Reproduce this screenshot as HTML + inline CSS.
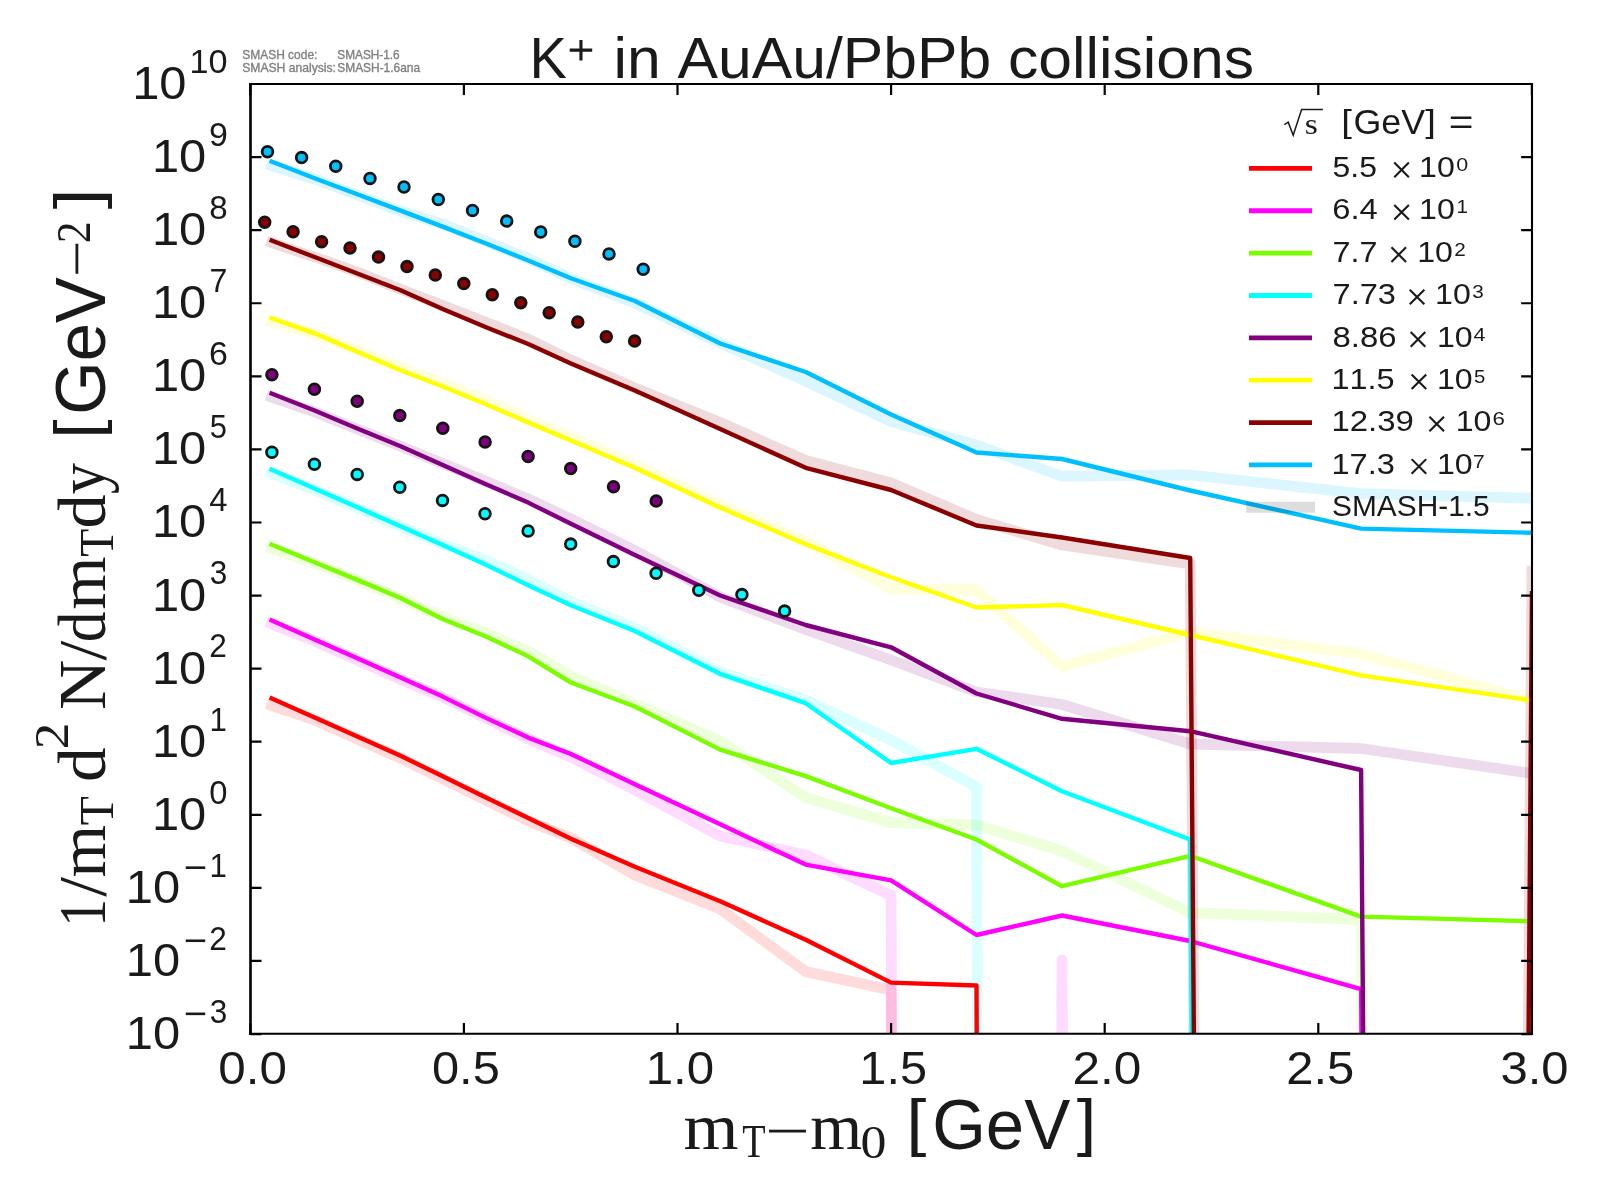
<!DOCTYPE html>
<html><head><meta charset="utf-8"><title>K+ mT spectra</title>
<style>html,body{margin:0;padding:0;background:#fff;overflow:hidden}svg{display:block}text{font-family:"Liberation Sans",sans-serif;fill:#1a1a1a;font-kerning:none}svg{will-change:transform}</style></head><body>
<svg width="1600" height="1200" viewBox="0 0 1600 1200">
<rect width="1600" height="1200" fill="#fff"/>
<defs><clipPath id="c"><rect x="250.5" y="84.0" width="1281.6" height="949.9"/></clipPath></defs>
<g clip-path="url(#c)" fill="none" stroke-linejoin="round" stroke-linecap="butt" stroke-width="10.8" stroke-opacity="0.14">
<path d="M266.5,704.0 L314.6,720.0 L357.3,739.0 L400.0,758.0 L442.7,779.0 L485.4,800.0 L528.2,821.0 L570.9,838.0 L634.9,875.0 L720.2,909.0 L805.7,971.6 L891.1,990.0 L976.5,22738.8" stroke="#ff0000"/>
<path d="M266.5,622.0 L314.6,641.0 L357.3,660.0 L400.0,679.0 L442.7,697.0 L485.4,718.0 L528.2,739.0 L570.9,757.0 L634.9,790.0 L720.2,836.0 L805.7,855.0 L891.1,895.5 L976.5,22738.8 L1062.0,960.0 L1190.2,22738.8" stroke="#ff00ff"/>
<path d="M266.5,546.5 L314.6,563.5 L357.3,580.0 L400.0,598.0 L442.7,617.0 L485.4,633.0 L528.2,651.0 L570.9,676.0 L634.9,703.8 L720.2,741.0 L805.7,797.5 L891.1,822.5 L976.5,825.0 L1062.0,851.0 L1190.2,912.6 L1361.1,919.5 L1532.0,22738.8" stroke="#7cfc00"/>
<path d="M266.5,471.5 L314.6,490.0 L357.3,508.0 L400.0,526.0 L442.7,544.0 L485.4,560.0 L528.2,579.5 L570.9,601.5 L634.9,628.0 L720.2,672.0 L805.7,700.0 L891.1,740.0 L976.5,787.0 L1062.0,22738.8" stroke="#00ffff"/>
<path d="M266.5,395.5 L314.6,412.0 L357.3,429.0 L400.0,446.0 L442.7,463.5 L485.4,481.0 L528.2,499.0 L570.9,519.0 L634.9,550.5 L720.2,597.0 L805.7,629.5 L891.1,660.0 L976.5,692.0 L1062.0,704.5 L1190.2,744.0 L1361.1,748.5 L1532.0,773.5" stroke="#800080"/>
<path d="M266.5,320.0 L314.6,334.0 L357.3,350.0 L400.0,367.0 L442.7,383.0 L485.4,400.0 L528.2,420.0 L570.9,437.0 L634.9,465.0 L720.2,505.0 L805.7,541.0 L891.1,588.8 L976.5,590.0 L1062.0,666.5 L1190.2,632.0 L1361.1,654.0 L1532.0,700.5" stroke="#ffff00"/>
<path d="M266.5,241.0 L314.6,257.0 L357.3,272.0 L400.0,289.0 L442.7,305.5 L485.4,322.0 L528.2,339.0 L570.9,360.0 L634.9,388.0 L720.2,422.5 L805.7,460.5 L891.1,483.0 L976.5,519.5 L1062.0,545.0 L1190.2,563.8 L1361.1,22738.8 L1532.0,565.7" stroke="#8b0000"/>
<path d="M266.5,164.0 L314.6,179.0 L357.3,195.0 L400.0,211.0 L442.7,224.0 L485.4,241.0 L528.2,258.5 L570.9,278.5 L634.9,303.0 L720.2,343.0 L805.7,381.0 L891.1,421.5 L976.5,445.0 L1062.0,476.2 L1190.2,475.0 L1361.1,493.6 L1532.0,498.2" stroke="#00bfff"/>
</g>
<g clip-path="url(#c)" fill="none" stroke-linejoin="round" stroke-linecap="butt" stroke-width="4.4">
<path d="M269.6,697.5 L314.6,717.4 L357.3,736.4 L400.0,755.5 L442.7,776.3 L485.4,797.2 L528.2,818.0 L570.9,838.8 L634.9,866.8 L720.2,901.2 L805.7,939.8 L891.1,982.6 L976.5,985.5 L1062.0,22738.8" stroke="#ff0000"/>
<path d="M269.6,619.4 L314.6,639.4 L357.3,658.3 L400.0,677.2 L442.7,696.6 L485.4,717.6 L528.2,737.6 L570.9,754.0 L634.9,784.2 L720.2,824.2 L805.7,864.6 L891.1,880.4 L976.5,935.0 L1062.0,915.5 L1190.2,941.0 L1361.1,989.2 L1532.0,22738.8" stroke="#ff00ff"/>
<path d="M269.6,543.8 L314.6,562.3 L357.3,579.9 L400.0,597.8 L442.7,619.0 L485.4,636.3 L528.2,656.3 L570.9,682.5 L634.9,706.5 L720.2,749.6 L805.7,776.1 L891.1,808.2 L976.5,839.5 L1062.0,886.2 L1190.2,855.8 L1361.1,916.6 L1532.0,921.3" stroke="#7cfc00"/>
<path d="M269.6,468.8 L314.6,488.6 L357.3,507.3 L400.0,526.1 L442.7,545.0 L485.4,564.5 L528.2,585.2 L570.9,605.2 L634.9,631.0 L720.2,673.8 L805.7,703.2 L891.1,763.0 L976.5,748.8 L1062.0,791.2 L1190.2,839.5 L1361.1,22738.8" stroke="#00ffff"/>
<path d="M269.6,392.8 L314.6,410.5 L357.3,428.5 L400.0,446.0 L442.7,465.0 L485.4,484.0 L528.2,502.6 L570.9,523.8 L634.9,555.0 L720.2,595.5 L805.7,625.0 L891.1,647.3 L976.5,693.5 L1062.0,718.8 L1190.2,731.2 L1361.1,770.0 L1532.0,22738.8" stroke="#800080"/>
<path d="M269.6,317.5 L314.6,333.3 L357.3,351.8 L400.0,370.0 L442.7,386.5 L485.4,404.0 L528.2,422.4 L570.9,440.6 L634.9,467.8 L720.2,507.5 L805.7,544.2 L891.1,577.2 L976.5,607.5 L1062.0,605.0 L1190.2,635.0 L1361.1,675.4 L1532.0,700.5" stroke="#ffff00"/>
<path d="M269.6,239.8 L314.6,257.0 L357.3,273.5 L400.0,290.0 L442.7,309.0 L485.4,327.0 L528.2,344.0 L570.9,363.5 L634.9,390.5 L720.2,429.0 L805.7,467.8 L891.1,490.0 L976.5,525.5 L1062.0,537.5 L1190.2,558.0 L1361.1,22738.8 L1532.0,591.0" stroke="#8b0000"/>
<path d="M269.6,160.7 L314.6,178.3 L357.3,194.3 L400.0,210.4 L442.7,226.6 L485.4,243.3 L528.2,260.5 L570.9,278.2 L634.9,301.0 L720.2,343.5 L805.7,372.0 L891.1,414.5 L976.5,452.5 L1062.0,459.0 L1190.2,490.5 L1361.1,528.6 L1532.0,532.8" stroke="#00bfff"/>
</g>
<g stroke="#141414" stroke-width="2.8">
<circle cx="267.5" cy="151.8" r="5.35" fill="#00bfff"/>
<circle cx="301.6" cy="157.6" r="5.35" fill="#00bfff"/>
<circle cx="335.75" cy="166.3" r="5.35" fill="#00bfff"/>
<circle cx="370" cy="178.4" r="5.35" fill="#00bfff"/>
<circle cx="404" cy="187" r="5.35" fill="#00bfff"/>
<circle cx="438.3" cy="199.5" r="5.35" fill="#00bfff"/>
<circle cx="472.5" cy="210.5" r="5.35" fill="#00bfff"/>
<circle cx="506.7" cy="221.1" r="5.35" fill="#00bfff"/>
<circle cx="540.7" cy="232" r="5.35" fill="#00bfff"/>
<circle cx="574.9" cy="241.2" r="5.35" fill="#00bfff"/>
<circle cx="609" cy="253.9" r="5.35" fill="#00bfff"/>
<circle cx="643.2" cy="269.2" r="5.35" fill="#00bfff"/>
<circle cx="264.7" cy="222.3" r="5.35" fill="#8b0000"/>
<circle cx="293.1" cy="231.7" r="5.35" fill="#8b0000"/>
<circle cx="321.6" cy="241.8" r="5.35" fill="#8b0000"/>
<circle cx="350" cy="248" r="5.35" fill="#8b0000"/>
<circle cx="378.5" cy="257.1" r="5.35" fill="#8b0000"/>
<circle cx="407" cy="266.6" r="5.35" fill="#8b0000"/>
<circle cx="435.3" cy="274.9" r="5.35" fill="#8b0000"/>
<circle cx="463.8" cy="283.6" r="5.35" fill="#8b0000"/>
<circle cx="492.3" cy="294.7" r="5.35" fill="#8b0000"/>
<circle cx="520.8" cy="302.7" r="5.35" fill="#8b0000"/>
<circle cx="549.2" cy="312.7" r="5.35" fill="#8b0000"/>
<circle cx="577.8" cy="322" r="5.35" fill="#8b0000"/>
<circle cx="606.3" cy="336.8" r="5.35" fill="#8b0000"/>
<circle cx="634.6" cy="341.1" r="5.35" fill="#8b0000"/>
<circle cx="271.9" cy="374.7" r="5.35" fill="#800080"/>
<circle cx="314.4" cy="389.3" r="5.35" fill="#800080"/>
<circle cx="357.2" cy="401.2" r="5.35" fill="#800080"/>
<circle cx="399.8" cy="415.6" r="5.35" fill="#800080"/>
<circle cx="442.8" cy="428.2" r="5.35" fill="#800080"/>
<circle cx="485.1" cy="442" r="5.35" fill="#800080"/>
<circle cx="528.1" cy="456.4" r="5.35" fill="#800080"/>
<circle cx="570.7" cy="468.6" r="5.35" fill="#800080"/>
<circle cx="613.5" cy="486.8" r="5.35" fill="#800080"/>
<circle cx="656.2" cy="501.1" r="5.35" fill="#800080"/>
<circle cx="271.9" cy="452.2" r="5.35" fill="#00ffff"/>
<circle cx="314.4" cy="464.3" r="5.35" fill="#00ffff"/>
<circle cx="357.2" cy="474.4" r="5.35" fill="#00ffff"/>
<circle cx="399.8" cy="487.3" r="5.35" fill="#00ffff"/>
<circle cx="442.5" cy="500.4" r="5.35" fill="#00ffff"/>
<circle cx="485" cy="513.75" r="5.35" fill="#00ffff"/>
<circle cx="528.1" cy="531" r="5.35" fill="#00ffff"/>
<circle cx="570.7" cy="544.1" r="5.35" fill="#00ffff"/>
<circle cx="613.4" cy="561.6" r="5.35" fill="#00ffff"/>
<circle cx="656.1" cy="573.3" r="5.35" fill="#00ffff"/>
<circle cx="698.8" cy="590.3" r="5.35" fill="#00ffff"/>
<circle cx="741.9" cy="594.6" r="5.35" fill="#00ffff"/>
<circle cx="784.6" cy="611.1" r="5.35" fill="#00ffff"/>
</g>
<path d="M250.5,83.0V1034.9" stroke="#000" stroke-width="2.6" fill="none"/>
<path d="M1532.0,83.0V1034.9" stroke="#000" stroke-width="2.1" fill="none"/>
<path d="M249.2,84.0H1533.05" stroke="#000" stroke-width="2.1" fill="none"/>
<path d="M249.2,1033.8000000000002H1533.05" stroke="#000" stroke-width="2.1" fill="none"/>
<path d="M250.5,1034.04h11 M1532.1,1034.04h-11 M250.5,960.96h11 M1532.1,960.96h-11 M250.5,887.88h11 M1532.1,887.88h-11 M250.5,814.80h11 M1532.1,814.80h-11 M250.5,741.72h11 M1532.1,741.72h-11 M250.5,668.64h11 M1532.1,668.64h-11 M250.5,595.56h11 M1532.1,595.56h-11 M250.5,522.48h11 M1532.1,522.48h-11 M250.5,449.40h11 M1532.1,449.40h-11 M250.5,376.32h11 M1532.1,376.32h-11 M250.5,303.24h11 M1532.1,303.24h-11 M250.5,230.16h11 M1532.1,230.16h-11 M250.5,157.08h11 M1532.1,157.08h-11 M250.5,84.00h11 M1532.1,84.00h-11 M250.30,1033.9v-11 M250.30,84.0v11 M463.90,1033.9v-11 M463.90,84.0v11 M677.50,1033.9v-11 M677.50,84.0v11 M891.10,1033.9v-11 M891.10,84.0v11 M1104.70,1033.9v-11 M1104.70,84.0v11 M1318.30,1033.9v-11 M1318.30,84.0v11 M1531.90,1033.9v-11 M1531.90,84.0v11" stroke="#000" stroke-width="2.2" fill="none"/>
<g>
<rect x="185.74" y="1012.54" width="19.47" height="2.6" fill="#1a1a1a"/>
<text transform="matrix(0.9688,0,0,1.0000,209.68,1022.84)" style="font-family:'Liberation Sans';font-size:32.51px" >3</text>
<text transform="matrix(1.0521,0,0,1.0000,125.85,1049.04)" style="font-family:'Liberation Sans';font-size:46.44px" >10</text>
<rect x="185.74" y="939.46" width="19.47" height="2.6" fill="#1a1a1a"/>
<text transform="matrix(0.9723,0,0,1.0000,209.20,949.76)" style="font-family:'Liberation Sans';font-size:32.51px" >2</text>
<text transform="matrix(1.0521,0,0,1.0000,125.85,975.96)" style="font-family:'Liberation Sans';font-size:46.44px" >10</text>
<rect x="185.74" y="866.38" width="19.47" height="2.6" fill="#1a1a1a"/>
<text transform="matrix(0.9634,0,0,1.0000,209.54,876.68)" style="font-family:'Liberation Sans';font-size:32.51px" >1</text>
<text transform="matrix(1.0521,0,0,1.0000,125.85,902.88)" style="font-family:'Liberation Sans';font-size:46.44px" >10</text>
<text transform="matrix(1.0087,0,0,1.0000,209.28,803.60)" style="font-family:'Liberation Sans';font-size:32.51px" >0</text>
<text transform="matrix(1.0521,0,0,1.0000,151.92,829.80)" style="font-family:'Liberation Sans';font-size:46.44px" >10</text>
<text transform="matrix(0.9634,0,0,1.0000,209.54,730.52)" style="font-family:'Liberation Sans';font-size:32.51px" >1</text>
<text transform="matrix(1.0521,0,0,1.0000,151.92,756.72)" style="font-family:'Liberation Sans';font-size:46.44px" >10</text>
<text transform="matrix(0.9723,0,0,1.0000,209.20,657.44)" style="font-family:'Liberation Sans';font-size:32.51px" >2</text>
<text transform="matrix(1.0521,0,0,1.0000,151.92,683.64)" style="font-family:'Liberation Sans';font-size:46.44px" >10</text>
<text transform="matrix(0.9688,0,0,1.0000,209.68,584.36)" style="font-family:'Liberation Sans';font-size:32.51px" >3</text>
<text transform="matrix(1.0521,0,0,1.0000,151.92,610.56)" style="font-family:'Liberation Sans';font-size:46.44px" >10</text>
<text transform="matrix(1.0089,0,0,1.0000,209.27,511.28)" style="font-family:'Liberation Sans';font-size:32.51px" >4</text>
<text transform="matrix(1.0521,0,0,1.0000,151.92,537.48)" style="font-family:'Liberation Sans';font-size:46.44px" >10</text>
<text transform="matrix(0.9520,0,0,1.0000,209.67,438.20)" style="font-family:'Liberation Sans';font-size:32.51px" >5</text>
<text transform="matrix(1.0521,0,0,1.0000,151.92,464.40)" style="font-family:'Liberation Sans';font-size:46.44px" >10</text>
<text transform="matrix(1.0440,0,0,1.0000,208.96,365.12)" style="font-family:'Liberation Sans';font-size:32.51px" >6</text>
<text transform="matrix(1.0521,0,0,1.0000,151.92,391.32)" style="font-family:'Liberation Sans';font-size:46.44px" >10</text>
<text transform="matrix(0.9867,0,0,1.0000,209.41,292.04)" style="font-family:'Liberation Sans';font-size:32.51px" >7</text>
<text transform="matrix(1.0521,0,0,1.0000,151.92,318.24)" style="font-family:'Liberation Sans';font-size:46.44px" >10</text>
<text transform="matrix(1.0197,0,0,1.0000,209.18,218.96)" style="font-family:'Liberation Sans';font-size:32.51px" >8</text>
<text transform="matrix(1.0521,0,0,1.0000,151.92,245.16)" style="font-family:'Liberation Sans';font-size:46.44px" >10</text>
<text transform="matrix(1.0419,0,0,1.0000,208.88,145.88)" style="font-family:'Liberation Sans';font-size:32.51px" >9</text>
<text transform="matrix(1.0521,0,0,1.0000,151.92,172.08)" style="font-family:'Liberation Sans';font-size:46.44px" >10</text>
<text transform="matrix(1.0521,0,0,1.0000,189.53,72.80)" style="font-family:'Liberation Sans';font-size:32.51px" >10</text>
<text transform="matrix(1.0521,0,0,1.0000,132.13,99.00)" style="font-family:'Liberation Sans';font-size:46.44px" >10</text>
</g>
<g>
<text transform="matrix(1.0634,0,0,1.0000,218.36,1084.10)" style="font-family:'Liberation Sans';font-size:46.44px" >0.0</text>
<text transform="matrix(1.0504,0,0,1.0000,431.99,1084.10)" style="font-family:'Liberation Sans';font-size:46.44px" >0.5</text>
<text transform="matrix(1.0614,0,0,1.0000,645.69,1084.10)" style="font-family:'Liberation Sans';font-size:46.44px" >1.0</text>
<text transform="matrix(1.0480,0,0,1.0000,859.34,1084.10)" style="font-family:'Liberation Sans';font-size:46.44px" >1.5</text>
<text transform="matrix(1.0672,0,0,1.0000,1072.53,1084.10)" style="font-family:'Liberation Sans';font-size:46.44px" >2.0</text>
<text transform="matrix(1.0541,0,0,1.0000,1286.16,1084.10)" style="font-family:'Liberation Sans';font-size:46.44px" >2.5</text>
<text transform="matrix(1.0552,0,0,1.0000,1500.48,1084.10)" style="font-family:'Liberation Sans';font-size:46.44px" >3.0</text>
</g>
<text transform="matrix(0.9651,0,0,1.0000,529.50,77.80)" style="font-family:'Liberation Sans';font-size:58.1px" >K</text>
<path d="M569.7,50.15h22.5 M580.95,39.9v20.5" stroke="#1a1a1a" stroke-width="3.1"/>
<text transform="matrix(1.0443,0,0,1.0000,613.44,77.80)" style="font-family:'Liberation Sans';font-size:58.1px" >in AuAu/PbPb collisions</text>
<text transform="matrix(1.0053,0,0,1.0000,242.21,59.40)" style="font-family:'Liberation Sans';fill:#808080;stroke:#808080;stroke-width:0.35px;font-size:11.91px" >SMASH code:</text>
<text transform="matrix(0.9942,0,0,1.0000,337.26,59.40)" style="font-family:'Liberation Sans';fill:#808080;stroke:#808080;stroke-width:0.35px;font-size:11.91px" >SMASH-1.6</text>
<text transform="matrix(1.0204,0,0,1.0000,242.20,71.90)" style="font-family:'Liberation Sans';fill:#808080;stroke:#808080;stroke-width:0.35px;font-size:11.91px" >SMASH analysis:</text>
<text transform="matrix(1.0015,0,0,1.0000,337.26,71.90)" style="font-family:'Liberation Sans';fill:#808080;stroke:#808080;stroke-width:0.35px;font-size:11.91px" >SMASH-1.6ana</text>
<text transform="matrix(1.0691,0,0,1.0000,683.62,1148.75)" style="font-family:'Liberation Serif';font-size:66px" >m</text>
<text transform="matrix(0.8176,0,0,1.0000,742.21,1157.00)" style="font-family:'Liberation Serif';font-size:46.7px" >T</text>
<rect x="769" y="1129.7" width="37" height="2.8" fill="#1a1a1a"/>
<text transform="matrix(1.0119,0,0,1.0000,810.20,1148.75)" style="font-family:'Liberation Serif';font-size:66px" >m</text>
<text transform="matrix(1.1115,0,0,1.0000,860.52,1157.60)" style="font-family:'Liberation Serif';font-size:46.7px" >0</text>
<text transform="matrix(1.0396,0,0,0.9143,906.33,1144.28)" style="font-family:'Liberation Sans';font-size:69.7px" >[</text>
<text transform="matrix(0.9907,0,0,1.0000,932.13,1148.75)" style="font-family:'Liberation Sans';font-size:69.7px" >GeV</text>
<text transform="matrix(1.0107,0,0,0.9143,1076.70,1144.28)" style="font-family:'Liberation Sans';font-size:69.7px" >]</text>
<g transform="translate(104.6,0) rotate(-90)">
<text transform="matrix(0.8146,0,0,1.0000,-926.87,0.00)" style="font-family:'Liberation Serif';font-size:68px" >1</text>
<text transform="matrix(1.0427,0,0,1.0000,-896.70,0.00)" style="font-family:'Liberation Serif';font-size:68px" >/</text>
<text transform="matrix(0.9920,0,0,1.0000,-877.42,0.00)" style="font-family:'Liberation Serif';font-size:68px" >m</text>
<text transform="matrix(1.0027,0,0,1.0000,-825.26,8.30)" style="font-family:'Liberation Serif';font-size:47.6px" >T</text>
<text transform="matrix(1.0191,0,0,1.0000,-781.90,0.00)" style="font-family:'Liberation Serif';font-size:68px" >d</text>
<text transform="matrix(1.1162,0,0,1.0000,-749.23,-37.00)" style="font-family:'Liberation Serif';font-size:47.6px" >2</text>
<text transform="matrix(1.0244,0,0,1.0000,-710.11,0.00)" style="font-family:'Liberation Serif';font-size:68px" >N</text>
<text transform="matrix(1.0480,0,0,1.0000,-660.60,0.00)" style="font-family:'Liberation Serif';font-size:68px" >/</text>
<text transform="matrix(0.9019,0,0,1.0000,-642.22,0.00)" style="font-family:'Liberation Serif';font-size:68px" >d</text>
<text transform="matrix(1.0059,0,0,1.0000,-609.84,0.00)" style="font-family:'Liberation Serif';font-size:68px" >m</text>
<text transform="matrix(0.9662,0,0,1.0000,-556.73,8.30)" style="font-family:'Liberation Serif';font-size:47.6px" >T</text>
<text transform="matrix(1.0028,0,0,1.0000,-528.56,0.00)" style="font-family:'Liberation Serif';font-size:68px" >d</text>
<text transform="matrix(0.9209,0,0,1.0000,-494.36,0.00)" style="font-family:'Liberation Serif';font-size:68px" >y</text>
<text transform="matrix(0.9927,0,0,0.9043,-438.68,-5.18)" style="font-family:'Liberation Sans';font-size:69.7px" >[</text>
<text transform="matrix(0.9859,0,0,1.0000,-414.71,0.00)" style="font-family:'Liberation Sans';font-size:69.7px" >GeV</text>
<rect x="-273.75" y="-29.10" width="30" height="2.8" fill="#1a1a1a"/>
<text transform="matrix(0.9171,0,0,1.0000,-243.17,-14.60)" style="font-family:'Liberation Serif';font-size:47.6px" >2</text>
<text transform="matrix(1.0829,0,0,0.9043,-209.34,-5.18)" style="font-family:'Liberation Sans';font-size:69.7px" >]</text>
</g>
<g>
<path d="M1284.4,124.6 L1288.2,122.2 L1293.2,135.2 L1301.6,109.6 H1322.9" fill="none" stroke="#1a1a1a" stroke-width="1.5" stroke-linejoin="miter"/>
<text transform="matrix(1.1604,0,0,1.0000,1304.82,133.90)" style="font-family:'Liberation Serif';font-size:29px" >s</text>
<text transform="matrix(1.1085,0,0,0.9267,1341.17,131.67)" style="font-family:'Liberation Sans';font-size:34.5px" >[</text>
<text transform="matrix(1.0380,0,0,1.0000,1353.50,134.20)" style="font-family:'Liberation Sans';font-size:34.5px" >GeV</text>
<text transform="matrix(1.1085,0,0,0.9267,1425.20,131.67)" style="font-family:'Liberation Sans';font-size:34.5px" >]</text>
<text transform="matrix(1.2290,0,0,1.0000,1448.83,134.20)" style="font-family:'Liberation Sans';font-size:34.5px" >=</text>
<path d="M1249,168.40H1312" stroke="#ff0000" stroke-width="4.8"/>
<text transform="matrix(1.0469,0,0,1.0000,1332.62,177.10)" style="font-family:'Liberation Sans';font-size:30.4px" >5.5</text>
<path d="M1394.27,162.60L1408.87,177.20M1408.87,162.60L1394.27,177.20" stroke="#1a1a1a" stroke-width="2.1"/>
<text transform="matrix(1.0560,0,0,1.0000,1419.12,177.10)" style="font-family:'Liberation Sans';font-size:30.4px" >10</text>
<text transform="matrix(1.1222,0,0,1.0000,1456.25,171.10)" style="font-family:'Liberation Sans';font-size:19.2px" >0</text>
<path d="M1249,210.76H1312" stroke="#ff00ff" stroke-width="4.8"/>
<text transform="matrix(1.0737,0,0,1.0000,1332.24,219.46)" style="font-family:'Liberation Sans';font-size:30.4px" >6.4</text>
<path d="M1394.27,204.96L1408.87,219.56M1408.87,204.96L1394.27,219.56" stroke="#1a1a1a" stroke-width="2.1"/>
<text transform="matrix(1.0560,0,0,1.0000,1419.12,219.46)" style="font-family:'Liberation Sans';font-size:30.4px" >10</text>
<text transform="matrix(1.0718,0,0,1.0000,1456.46,213.46)" style="font-family:'Liberation Sans';font-size:19.2px" >1</text>
<path d="M1249,253.12H1312" stroke="#7cfc00" stroke-width="4.8"/>
<text transform="matrix(1.0606,0,0,1.0000,1332.62,261.82)" style="font-family:'Liberation Sans';font-size:30.4px" >7.7</text>
<path d="M1391.46,247.32L1406.06,261.92M1406.06,247.32L1391.46,261.92" stroke="#1a1a1a" stroke-width="2.1"/>
<text transform="matrix(1.0560,0,0,1.0000,1417.24,261.82)" style="font-family:'Liberation Sans';font-size:30.4px" >10</text>
<text transform="matrix(1.0817,0,0,1.0000,1454.17,255.82)" style="font-family:'Liberation Sans';font-size:19.2px" >2</text>
<path d="M1249,295.48H1312" stroke="#00ffff" stroke-width="4.8"/>
<text transform="matrix(1.0712,0,0,1.0000,1332.60,304.18)" style="font-family:'Liberation Sans';font-size:30.4px" >7.73</text>
<path d="M1409.74,289.68L1424.34,304.28M1424.34,289.68L1409.74,304.28" stroke="#1a1a1a" stroke-width="2.1"/>
<text transform="matrix(1.0560,0,0,1.0000,1435.06,304.18)" style="font-family:'Liberation Sans';font-size:30.4px" >10</text>
<text transform="matrix(1.0777,0,0,1.0000,1472.24,298.18)" style="font-family:'Liberation Sans';font-size:19.2px" >3</text>
<path d="M1249,337.84H1312" stroke="#800080" stroke-width="4.8"/>
<text transform="matrix(1.0829,0,0,1.0000,1332.46,346.54)" style="font-family:'Liberation Sans';font-size:30.4px" >8.86</text>
<path d="M1410.68,332.04L1425.28,346.64M1425.28,332.04L1410.68,346.64" stroke="#1a1a1a" stroke-width="2.1"/>
<text transform="matrix(1.0560,0,0,1.0000,1436.93,346.54)" style="font-family:'Liberation Sans';font-size:30.4px" >10</text>
<text transform="matrix(1.1224,0,0,1.0000,1473.47,340.54)" style="font-family:'Liberation Sans';font-size:19.2px" >4</text>
<path d="M1249,380.20H1312" stroke="#ffff00" stroke-width="4.8"/>
<text transform="matrix(1.0662,0,0,1.0000,1331.43,388.90)" style="font-family:'Liberation Sans';font-size:30.4px" >11.5</text>
<path d="M1411.62,374.40L1426.22,389.00M1426.22,374.40L1411.62,389.00" stroke="#1a1a1a" stroke-width="2.1"/>
<text transform="matrix(1.0560,0,0,1.0000,1436.93,388.90)" style="font-family:'Liberation Sans';font-size:30.4px" >10</text>
<text transform="matrix(1.0591,0,0,1.0000,1474.09,382.90)" style="font-family:'Liberation Sans';font-size:19.2px" >5</text>
<path d="M1249,422.56H1312" stroke="#8b0000" stroke-width="4.8"/>
<text transform="matrix(1.0832,0,0,1.0000,1331.39,431.26)" style="font-family:'Liberation Sans';font-size:30.4px" >12.39</text>
<path d="M1429.43,416.76L1444.03,431.36M1444.03,416.76L1429.43,431.36" stroke="#1a1a1a" stroke-width="2.1"/>
<text transform="matrix(1.0560,0,0,1.0000,1455.68,431.26)" style="font-family:'Liberation Sans';font-size:30.4px" >10</text>
<text transform="matrix(1.1615,0,0,1.0000,1492.52,425.26)" style="font-family:'Liberation Sans';font-size:19.2px" >6</text>
<path d="M1249,464.92H1312" stroke="#00bfff" stroke-width="4.8"/>
<text transform="matrix(1.0712,0,0,1.0000,1331.41,473.62)" style="font-family:'Liberation Sans';font-size:30.4px" >17.3</text>
<path d="M1411.62,459.12L1426.22,473.72M1426.22,459.12L1411.62,473.72" stroke="#1a1a1a" stroke-width="2.1"/>
<text transform="matrix(1.0560,0,0,1.0000,1436.93,473.62)" style="font-family:'Liberation Sans';font-size:30.4px" >10</text>
<text transform="matrix(1.0977,0,0,1.0000,1472.88,467.62)" style="font-family:'Liberation Sans';font-size:19.2px" >7</text>
<path d="M1246.2,507.28H1315.1" stroke="#000" stroke-opacity="0.135" stroke-width="10.9"/>
<text transform="matrix(0.9833,0,0,1.0000,1332.04,516.40)" style="font-family:'Liberation Sans';font-size:30.4px" >SMASH-1.5</text>
</g>
</svg></body></html>
